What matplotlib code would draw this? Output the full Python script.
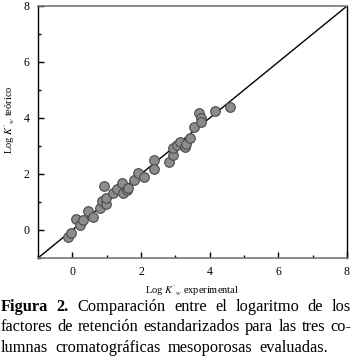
import matplotlib.pyplot as plt  # for plotting
from matplotlib.ticker import MultipleLocator

plt.rcParams['font.family'] = ['Liberation Serif', 'DejaVu Serif']
plt.rcParams['mathtext.fontset'] = 'stix'

# DATA
log_k_exp = [-0.12, -0.05, 0.11, 0.22, 0.32, 0.47, 0.59, 0.81, 0.87, 0.93, 0.98, 0.98,
             1.18, 1.31, 1.44, 1.48, 1.60, 1.63, 1.80, 1.92, 2.09, 2.38, 2.38, 2.82,
             2.92, 2.94, 3.04, 3.14, 3.28, 3.31, 3.43, 3.55, 3.70, 3.74, 3.74, 4.16, 4.59]
log_k_teo = [-0.24, -0.10, 0.38, 0.18, 0.36, 0.68, 0.47, 0.78, 1.05, 1.57, 0.92, 1.13,
             1.31, 1.45, 1.67, 1.31, 1.43, 1.51, 1.79, 2.03, 1.88, 2.50, 2.17, 2.44,
             2.68, 2.92, 3.04, 3.15, 2.98, 3.06, 3.27, 3.67, 4.17, 3.99, 3.87, 4.25, 4.40]
axis_range = [-1, 8]

caption_lines = [
    ["Figura", "2.", "Comparación", "entre", "el", "logaritmo", "de", "los"],
    ["factores", "de", "retención", "estandarizados", "para", "las", "tres", "co-"],
    ["lumnas", "cromatográficas", "mesoporosas", "evaluadas."],
]
bold_words = {(0, 0), (0, 1)}

W, H = 352, 361
fig = plt.figure(figsize=(W / 100, H / 100), dpi=100)
ax = fig.add_axes([38 / W, 1 - 258 / H, (347 - 38) / W, (258 - 6) / H])

# identity line and points
ax.plot(axis_range, axis_range, color='black', lw=1.0, zorder=2)
ax.scatter(log_k_exp, log_k_teo, s=48, facecolor='#8c8c8c', edgecolor='#4a4a4a',
           linewidths=0.8, zorder=3)

ax.set_xlim(axis_range)
ax.set_ylim(axis_range)
for a in (ax.xaxis, ax.yaxis):
    a.set_major_locator(MultipleLocator(2))
    a.set_minor_locator(MultipleLocator(1))
ax.set_xticks([0, 2, 4, 6, 8])
ax.set_yticks([0, 2, 4, 6, 8])
ax.tick_params(which='major', direction='in', length=4, width=1, labelsize=8.5, pad=6)
ax.tick_params(which='minor', direction='in', length=2.5, width=1)
ax.tick_params(top=False, right=False, which='both')
for side in ['left', 'right']:
    ax.spines[side].set_linewidth(1.0)
for side in ['top', 'bottom']:
    ax.spines[side].set_linewidth(1.2)
    ax.spines[side].set_color('#777777')

ax.set_xlabel(r"Log $K'_w$ experimental", fontsize=7.5)
ax.xaxis.set_label_coords(0.50, -0.100)
ax.set_ylabel(r"Log $K'_w$ teórico", fontsize=7.5)
ax.yaxis.set_label_coords(-0.068, 0.548)

# caption, justified line by line
fig.canvas.draw()
renderer = fig.canvas.get_renderer()
fs = 11.8
line_y = [311, 331, 352]
x0, x1 = 1, 351
for i, words in enumerate(caption_lines):
    texts = []
    widths = []
    for j, w in enumerate(words):
        t = fig.text(0, 0, w, fontsize=fs, fontweight='bold' if (i, j) in bold_words else 'normal',
                     va='baseline', ha='left')
        bb = t.get_window_extent(renderer)
        texts.append(t)
        widths.append(bb.width)
    total = sum(widths)
    if i < len(caption_lines) - 1:
        gap = (x1 - x0 - total) / (len(words) - 1)
    else:
        gap = 7
    x = x0
    for t, wd in zip(texts, widths):
        t.set_position((x / W, 1 - line_y[i] / H))
        x += wd + gap

fig.savefig("out.png", dpi=100)
